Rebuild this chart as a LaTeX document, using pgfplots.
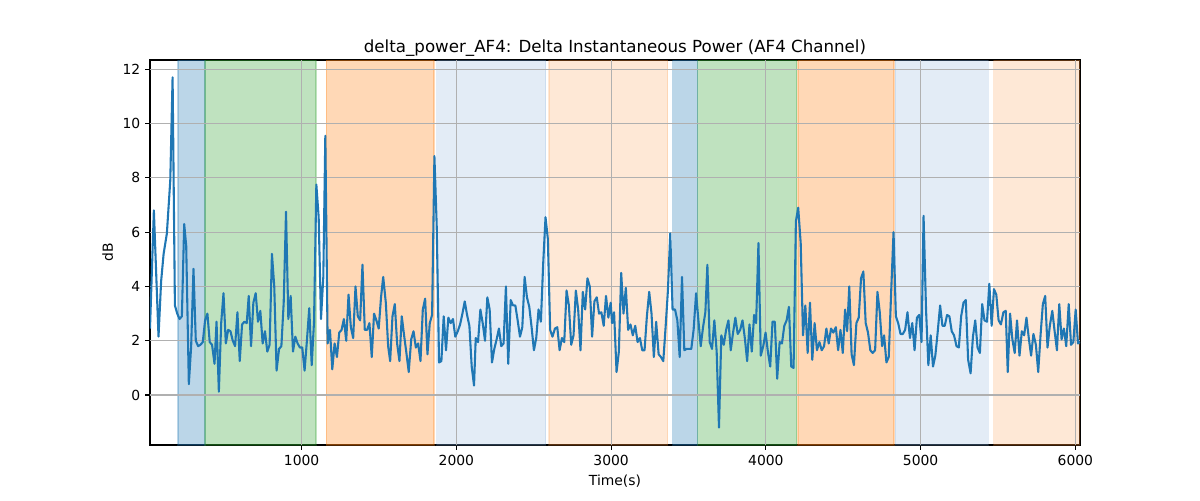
\documentclass[border=0pt]{standalone}
\usepackage{fontspec}
\setmainfont{DejaVu Sans}
\usepackage{pgfplots}
\pgfplotsset{compat=1.18}
\definecolor{tabblue}{RGB}{31,119,180}
\definecolor{tabgreen}{RGB}{44,160,44}
\definecolor{taborange}{RGB}{255,127,14}
\definecolor{lblue}{RGB}{115,160,210}
\definecolor{lorange}{RGB}{250,140,50}
\definecolor{gridgray}{RGB}{176,176,176}
\begin{document}
\begin{tikzpicture}
\useasboundingbox (-108pt,-39.6pt) rectangle (756pt,320.4pt);
\begin{axis}[
  at={(0,0)}, anchor=south west,
  scale only axis, width=669.6pt, height=277.2pt,
  xmin=20, xmax=6030, ymin=-1.84, ymax=12.34,
  xtick={1000,2000,3000,4000,5000,6000},
  ytick={0,2,4,6,8,10,12},
  axis line style={line width=0.8pt},
  tick align=outside, tick pos=left,
  major tick length=3.5pt,
  every tick/.style={black, line width=0.8pt},
  /pgf/number format/assume math mode=true,
  /pgf/number format/1000 sep={},
  tick label style={font=\fontsize{10}{12}\selectfont},
  label style={font=\fontsize{10}{12}\selectfont},
  title style={font=\fontsize{12}{14}\selectfont, yshift=-7pt},
  title={delta\_power\_AF4: Delta Instantaneous Power (AF4 Channel)},
  xlabel={Time(s)}, ylabel={dB},
  bandA/.style={opacity=0.3, line width=1pt},
  bandL/.style={opacity=0.2, line width=1pt},
  gridl/.style={color=gridgray, line width=0.8pt},
]
% shaded bands
\addplot[bandA, fill=tabblue, draw=tabblue] coordinates {(200,-1.84) (200,12.34) (376,12.34) (376,-1.84)} -- cycle;
\addplot[bandA, fill=tabgreen, draw=tabgreen] coordinates {(376,-1.84) (376,12.34) (1092,12.34) (1092,-1.84)} -- cycle;
\addplot[bandA, fill=taborange, draw=taborange] coordinates {(1159,-1.84) (1159,12.34) (1856,12.34) (1856,-1.84)} -- cycle;
\addplot[bandL, fill=lblue, draw=lblue] coordinates {(1873,-1.84) (1873,12.34) (2576,12.34) (2576,-1.84)} -- cycle;
\addplot[bandL, fill=lorange, draw=lorange] coordinates {(2598,-1.84) (2598,12.34) (3365,12.34) (3365,-1.84)} -- cycle;
\addplot[bandA, fill=tabblue, draw=tabblue] coordinates {(3397,-1.84) (3397,12.34) (3559,12.34) (3559,-1.84)} -- cycle;
\addplot[bandA, fill=tabgreen, draw=tabgreen] coordinates {(3559,-1.84) (3559,12.34) (4199,12.34) (4199,-1.84)} -- cycle;
\addplot[bandA, fill=taborange, draw=taborange] coordinates {(4207,-1.84) (4207,12.34) (4827,12.34) (4827,-1.84)} -- cycle;
\addplot[bandL, fill=lblue, draw=lblue] coordinates {(4836,-1.84) (4836,12.34) (5437,12.34) (5437,-1.84)} -- cycle;
\addplot[bandL, fill=lorange, draw=lorange] coordinates {(5472,-1.84) (5472,12.34) (6030,12.34) (6030,-1.84)} -- cycle;
% grid lines (above the bands, below the signal)
\addplot[gridl] coordinates {(1000,-1.84) (1000,12.34)};
\addplot[gridl] coordinates {(2000,-1.84) (2000,12.34)};
\addplot[gridl] coordinates {(3000,-1.84) (3000,12.34)};
\addplot[gridl] coordinates {(4000,-1.84) (4000,12.34)};
\addplot[gridl] coordinates {(5000,-1.84) (5000,12.34)};
\addplot[gridl] coordinates {(6000,-1.84) (6000,12.34)};
\addplot[gridl] coordinates {(20,0) (6030,0)};
\addplot[gridl] coordinates {(20,2) (6030,2)};
\addplot[gridl] coordinates {(20,4) (6030,4)};
\addplot[gridl] coordinates {(20,6) (6030,6)};
\addplot[gridl] coordinates {(20,8) (6030,8)};
\addplot[gridl] coordinates {(20,10) (6030,10)};
\addplot[gridl] coordinates {(20,12) (6030,12)};
% signal
\addplot[color=tabblue, line width=1.5pt, mark=none, line join=round] table {
x y
20 2.45
45 6.8
75 2.15
92 4.2
108 5.2
129 5.95
151 7.9
166 11.7
181 3.3
196 3.0
211 2.8
226 2.9
241 6.3
254 5.5
271 0.4
286 1.8
301 4.65
316 2.0
331 1.8
346 1.85
361 1.95
376 2.75
391 3.0
406 1.95
421 1.85
437 1.15
450 2.7
465 0.12
480 2.65
495 3.75
510 1.9
525 2.4
540 2.35
555 2.0
570 1.8
585 3.05
600 1.25
615 2.6
630 2.7
645 2.65
658 3.65
673 1.8
688 3.4
703 3.75
718 2.7
733 3.1
748 1.9
763 2.35
778 1.6
793 1.85
808 5.2
823 4.0
838 0.9
854 1.7
869 1.8
884 3.4
899 6.75
914 2.8
929 3.65
944 1.6
959 2.15
974 1.9
989 1.75
1004 1.75
1019 0.9
1034 2.0
1049 3.2
1065 1.1
1080 2.7
1095 7.75
1110 6.55
1125 2.8
1140 4.35
1153 9.55
1168 1.9
1183 2.4
1198 0.95
1213 1.9
1228 1.4
1243 2.3
1258 2.4
1273 2.8
1288 2.0
1303 3.7
1318 2.5
1333 2.1
1348 4.0
1363 2.9
1378 2.75
1393 4.8
1408 2.4
1423 2.4
1438 2.65
1453 1.4
1468 3.0
1483 2.75
1498 2.45
1513 3.6
1527 4.35
1544 3.4
1559 1.8
1572 1.25
1587 2.9
1602 3.35
1617 1.9
1632 1.25
1647 2.9
1662 2.2
1677 1.55
1692 0.85
1708 2.05
1723 2.35
1738 1.75
1753 1.9
1768 1.25
1783 3.15
1798 3.55
1813 1.5
1828 2.65
1843 2.95
1858 8.8
1873 6.2
1888 1.2
1903 1.25
1918 2.9
1933 1.65
1948 2.85
1963 2.65
1978 2.8
1993 2.15
2009 2.35
2024 2.6
2039 3.0
2054 3.45
2069 2.95
2084 2.55
2099 1.05
2114 0.35
2125 2.1
2140 1.95
2155 3.15
2170 2.65
2185 2.0
2200 3.6
2215 3.15
2230 1.2
2245 1.7
2260 2.05
2275 2.45
2290 1.8
2305 1.9
2320 4.0
2335 1.15
2351 3.5
2366 3.3
2381 3.3
2396 2.75
2411 2.15
2426 2.5
2441 4.35
2456 3.6
2471 3.25
2486 2.5
2501 1.65
2516 2.1
2531 3.15
2546 2.7
2561 4.85
2576 6.55
2591 5.75
2606 2.4
2621 2.15
2637 2.45
2652 2.5
2667 1.65
2682 2.1
2697 1.95
2712 3.85
2727 3.3
2742 1.85
2757 2.2
2772 3.85
2787 3.15
2802 1.65
2817 3.8
2832 3.15
2847 4.3
2862 4.0
2877 2.15
2892 3.45
2907 3.6
2922 3.0
2937 3.05
2952 2.55
2967 3.65
2982 2.85
2997 3.4
3006 2.65
3019 3.05
3035 0.85
3050 1.6
3065 4.5
3080 3.0
3095 3.95
3110 2.4
3125 2.6
3140 2.2
3156 2.55
3171 1.95
3186 2.1
3201 1.65
3216 1.65
3231 2.9
3246 3.8
3261 3.0
3276 1.4
3291 2.7
3307 1.5
3322 1.4
3337 1.25
3352 2.5
3367 3.85
3382 5.95
3397 3.15
3413 3.15
3428 2.75
3443 1.4
3458 4.35
3473 1.65
3488 1.7
3503 1.7
3518 1.7
3533 2.4
3549 3.75
3564 2.75
3579 1.8
3594 2.5
3609 3.05
3622 4.8
3637 1.95
3652 1.7
3667 2.75
3682 1.6
3697 -1.2
3712 2.2
3728 1.85
3743 2.4
3758 2.75
3773 1.65
3788 2.3
3803 2.85
3818 2.25
3834 2.4
3849 2.75
3864 2.1
3879 1.25
3894 2.6
3909 1.6
3924 2.95
3937 2.65
3952 5.6
3967 1.45
3983 1.8
3998 2.3
4013 1.6
4028 1.05
4043 2.7
4058 2.7
4073 0.6
4089 1.95
4104 1.9
4119 2.55
4134 2.75
4149 3.25
4164 1.05
4179 1.0
4194 6.4
4209 6.9
4225 5.6
4240 2.2
4255 3.3
4270 1.55
4285 3.4
4300 1.3
4315 2.65
4330 1.65
4346 1.95
4361 1.65
4376 1.8
4391 2.45
4406 1.9
4421 2.45
4436 2.3
4452 2.5
4467 1.65
4482 2.4
4497 1.55
4512 3.15
4525 2.35
4539 4.0
4554 1.5
4569 1.1
4585 2.65
4600 2.85
4615 4.3
4630 4.55
4645 2.65
4660 2.3
4675 1.65
4690 1.55
4706 1.65
4721 3.8
4736 3.05
4751 1.8
4764 2.2
4779 1.2
4794 1.4
4810 3.85
4825 6.0
4840 2.9
4855 2.65
4870 2.25
4885 2.25
4900 2.4
4915 3.05
4931 2.1
4946 2.65
4961 1.65
4976 2.85
4991 2.95
5006 1.95
5019 6.6
5035 3.15
5050 1.1
5065 2.2
5080 1.05
5095 1.45
5110 2.3
5126 3.3
5141 2.55
5156 2.55
5171 2.95
5186 2.9
5201 2.35
5216 2.2
5232 1.8
5247 1.75
5262 2.9
5277 3.4
5292 3.5
5307 1.3
5323 0.8
5338 2.15
5353 2.75
5368 1.75
5383 1.55
5398 3.35
5413 2.75
5429 2.7
5444 4.1
5459 2.55
5474 3.9
5489 3.7
5504 2.75
5519 2.6
5535 3.05
5550 3.1
5563 0.85
5578 3.0
5593 2.05
5608 1.55
5623 2.75
5639 1.45
5654 2.35
5669 2.2
5684 2.85
5699 2.1
5714 1.45
5729 2.25
5745 1.85
5760 0.85
5775 2.2
5790 3.35
5805 3.65
5820 1.75
5835 2.55
5851 3.1
5866 2.35
5881 1.65
5896 3.35
5911 2.05
5926 2.45
5941 1.8
5957 3.35
5972 1.85
5987 1.95
6002 3.15
6017 1.9
6030 1.95
};
\end{axis}
\end{tikzpicture}
\end{document}
